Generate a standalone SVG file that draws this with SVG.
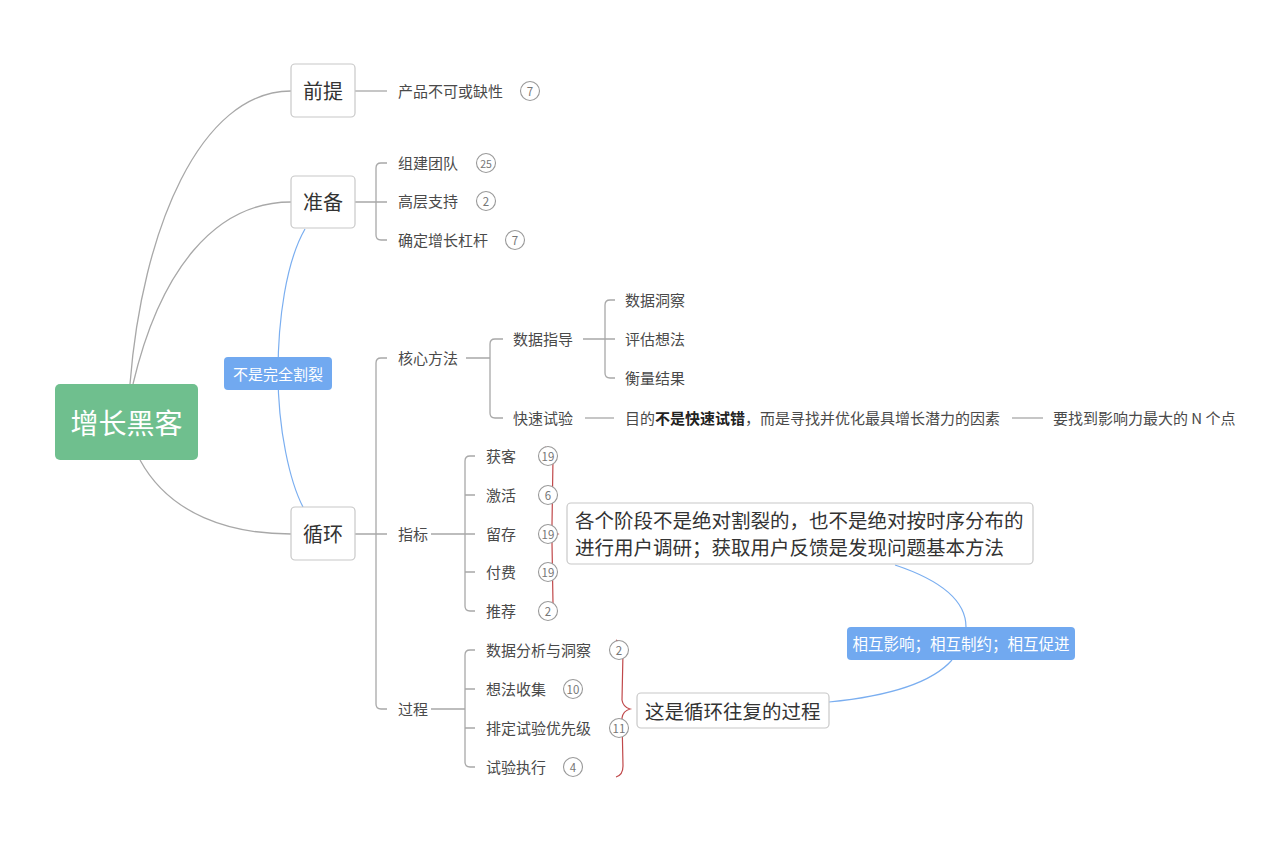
<svg xmlns="http://www.w3.org/2000/svg" width="1280" height="861" viewBox="0 0 1280 861">
<style>
text{font-family:"Noto Sans CJK SC","Noto Sans",sans-serif;}
.t{font-size:15px;fill:#4a4a4a;dominant-baseline:central;}
.b{font-size:20px;fill:#333;dominant-baseline:central;text-anchor:middle;}
.box{fill:#fff;stroke:#c8c8c8;stroke-width:1.2;}
.ln{fill:none;stroke:#a8a8a8;stroke-width:1.3;}
.bl{fill:none;stroke:#7aaef0;stroke-width:1.2;}
.rd{fill:none;stroke:#c0484a;stroke-width:1.2;}
.bc{fill:#fff;stroke:#999;stroke-width:1.1;}
.bt{font-size:11.5px;fill:#777;dominant-baseline:central;text-anchor:middle;}
.lab{fill:#71a9f0;}
.lt{font-size:15.5px;fill:#fff;dominant-baseline:central;text-anchor:middle;}
.c{font-size:19.5px;fill:#333;dominant-baseline:central;}
</style>
<rect width="1280" height="861" fill="#fff"/>
<g id="connectors">
<path class="ln" d="M130,384 C142,230 200,91 291,91"/>
<path class="ln" d="M133,384 C160,270 215,202 291,202"/>
<path class="ln" d="M140,460 C170,515 230,534 291,534"/>
<path class="ln" d="M355,91 H387"/>
<path class="ln" d="M355,202 H376 M387,163 H381 Q376,163 376,168 V235 Q376,240 381,240 H387 M376,202 H387"/>
<path class="ln" d="M355,534 H376 M387,358 H381 Q376,358 376,363 V704 Q376,709 381,709 H387 M376,534 H387"/>
<path class="ln" d="M466,358 H490 M503,339 H495 Q490,339 490,344 V413 Q490,418 495,418 H503"/>
<path class="ln" d="M583,339 H605 M615,300 H610 Q605,300 605,305 V373 Q605,378 610,378 H615 M605,339 H615"/>
<path class="ln" d="M585,418 H614"/>
<path class="ln" d="M1012,418 H1043"/>
<path class="ln" d="M431,534 H465 M475,456 H470 Q465,456 465,461 V606 Q465,611 470,611 H475 M465,495 H475 M465,534 H475 M465,572 H475"/>
<path class="ln" d="M431,709 H465 M475,650 H470 Q465,650 465,655 V762 Q465,767 470,767 H475 M465,689 H475 M465,728 H475"/>
<path class="bl" d="M305,229 C286,262 278,320 278,373 C278,430 290,482 303,507"/>
<path class="bl" d="M895,565 C940,580 966,600 966,627"/>
<path class="bl" d="M952,660 C930,685 880,697 829,702"/>
<path class="rd" d="M545,447 Q553,449 553,458 L552,525 Q553,532 558,534 Q553,536 552,543 L553,604 Q553,611 547,613"/>
<path class="rd" d="M616,640 Q623,642 623,652 L622,700 Q623,707 630,709 Q623,711 622,718 L623,766 Q623,775 616,777"/>
</g>
<g id="root">
<rect x="55" y="384" width="143" height="76" rx="5" fill="#6fbf8e"/>
<text x="126.5" y="421.5" style="font-size:28px;fill:#fff;dominant-baseline:central;text-anchor:middle;">增长黑客</text>
</g>
<g id="qianti">
<rect class="box" x="291" y="64" width="64" height="53" rx="4"/>
<text class="b" x="323" y="90">前提</text>
</g>
<g id="zhunbei">
<rect class="box" x="291" y="176" width="64" height="52" rx="4"/>
<text class="b" x="323" y="201.5">准备</text>
</g>
<g id="xunhuan">
<rect class="box" x="291" y="507" width="64" height="53" rx="4"/>
<text class="b" x="323" y="533">循环</text>
</g>
<g id="label-split">
<rect class="lab" x="224" y="357" width="108" height="33" rx="4"/>
<text class="lt" x="278" y="373" style="font-size:15px">不是完全割裂</text>
</g>
<g id="n-chanpin"><text class="t" x="398" y="90">产品不可或缺性</text><circle class="bc" cx="530" cy="91" r="9.5"/><text class="bt" x="530" y="91">7</text></g>
<g id="n-zujian"><text class="t" x="398" y="162">组建团队</text><circle class="bc" cx="486" cy="163" r="9.5"/><text class="bt" x="486" y="163" style="font-size:10.5px">25</text></g>
<g id="n-gaoceng"><text class="t" x="398" y="200">高层支持</text><circle class="bc" cx="486" cy="201" r="9.5"/><text class="bt" x="486" y="201">2</text></g>
<g id="n-queding"><text class="t" x="398" y="239">确定增长杠杆</text><circle class="bc" cx="515" cy="240" r="9.5"/><text class="bt" x="515" y="240">7</text></g>
<g id="n-hexin"><text class="t" x="398" y="357">核心方法</text></g>
<g id="n-shujuzhidao"><text class="t" x="513" y="338">数据指导</text></g>
<g id="n-dongcha"><text class="t" x="625" y="299">数据洞察</text></g>
<g id="n-pinggu"><text class="t" x="625" y="338">评估想法</text></g>
<g id="n-hengliang"><text class="t" x="625" y="377">衡量结果</text></g>
<g id="n-kuaisu"><text class="t" x="513" y="417">快速试验</text></g>
<g id="n-mudi"><text class="t" x="625" y="417">目的<tspan style="font-weight:bold;fill:#222">不是快速试错</tspan>，而是寻找并优化最具增长潜力的因素</text></g>
<g id="n-yaozhao"><text class="t" x="1053" y="417">要找到影响力最大的 N 个点</text></g>
<g id="n-zhibiao"><text class="t" x="398" y="533">指标</text></g>
<g id="n-huoke"><text class="t" x="486" y="455">获客</text><circle class="bc" cx="548" cy="456" r="9.5"/><text class="bt" x="548" y="456">19</text></g>
<g id="n-jihuo"><text class="t" x="486" y="494">激活</text><circle class="bc" cx="548" cy="495" r="9.5"/><text class="bt" x="548" y="495">6</text></g>
<g id="n-liucun"><text class="t" x="486" y="533">留存</text><circle class="bc" cx="548" cy="534" r="9.5"/><text class="bt" x="548" y="534">19</text></g>
<g id="n-fufei"><text class="t" x="486" y="571">付费</text><circle class="bc" cx="548" cy="572" r="9.5"/><text class="bt" x="548" y="572">19</text></g>
<g id="n-tuijian"><text class="t" x="486" y="610">推荐</text><circle class="bc" cx="548" cy="611" r="9.5"/><text class="bt" x="548" y="611">2</text></g>
<g id="n-guocheng"><text class="t" x="398" y="708">过程</text></g>
<g id="n-fenxi"><text class="t" x="486" y="649">数据分析与洞察</text><circle class="bc" cx="619" cy="650" r="9.5"/><text class="bt" x="619" y="650">2</text></g>
<g id="n-xiangfa"><text class="t" x="486" y="688">想法收集</text><circle class="bc" cx="573" cy="689" r="9.5"/><text class="bt" x="573" y="689">10</text></g>
<g id="n-paiding"><text class="t" x="486" y="727">排定试验优先级</text><circle class="bc" cx="619" cy="728" r="9.5"/><text class="bt" x="619" y="728">11</text></g>
<g id="n-zhixing"><text class="t" x="486" y="766">试验执行</text><circle class="bc" cx="573" cy="767" r="9.5"/><text class="bt" x="573" y="767">4</text></g>
<g id="callout-stages">
<rect class="box" x="567" y="503" width="466" height="61" rx="4"/>
<text class="c" x="575" y="519">各个阶段不是绝对割裂的，也不是绝对按时序分布的</text>
<text class="c" x="575" y="546">进行用户调研；获取用户反馈是发现问题基本方法</text>
</g>
<g id="callout-loop">
<rect class="box" x="637" y="693" width="192" height="35" rx="4"/>
<text class="c" x="645" y="710">这是循环往复的过程</text>
</g>
<g id="label-mutual">
<rect class="lab" x="847" y="627" width="228" height="33" rx="4"/>
<text class="lt" x="961" y="643">相互影响；相互制约；相互促进</text>
</g>
</svg>
